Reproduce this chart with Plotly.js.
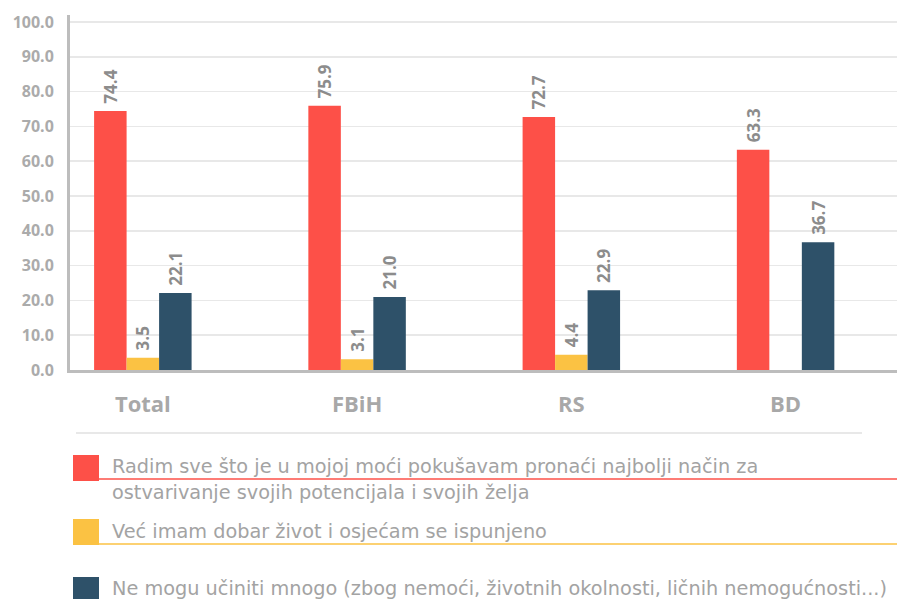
<!DOCTYPE html>
<html>
<head>
<meta charset="utf-8">
<script src="https://cdn.plot.ly/plotly-3.0.1.min.js"></script>
<style>html,body{margin:0;padding:0;background:#fff;}#chart{width:897px;height:599px;}</style>
</head>
<body>
<div id="chart"></div>
<script>
const categories = ["Total", "FBiH", "RS", "BD"];
const seriesNames = [
  "Radim sve što je u mojoj moći pokušavam pronaći najbolji način za<br>ostvarivanje svojih potencijala i svojih želja",
  "Već imam dobar život i osjećam se ispunjeno",
  "Ne mogu učiniti mnogo (zbog nemoći, životnih okolnosti, ličnih nemogućnosti...)"
];
const radimValues = [74.4, 75.9, 72.7, 63.3];
const vecImamValues = [3.5, 3.1, 4.4, null];
const neMoguValues = [22.1, 21.0, 22.9, 36.7];
const yTickValues = [0, 10, 20, 30, 40, 50, 60, 70, 80, 90, 100];
const seriesColors = ["#fd5048", "#fbc243", "#2e5169"];

const W = 897, H = 599;
const M = {l: 70, r: 0, t: 15, b: 229};
const pw = W - M.l - M.r, ph = H - M.t - M.b;
const px = v => (v - M.l) / pw;
const py = v => (H - M.b - v) / ph;

const allValues = [radimValues, vecImamValues, neMoguValues];
const traces = allValues.map((vals, i) => ({
  type: "bar",
  x: categories,
  y: vals,
  name: seriesNames[i],
  marker: {color: seriesColors[i]},
  texttemplate: "\u00a0%{y:.1f}",
  textposition: "outside",
  textangle: -90,
  constraintext: "none",
  cliponaxis: false,
  textfont: {family: "Open Sans", size: 17, color: "#8c8c8c", weight: "bold"},
  hoverinfo: "none"
}));

const shapes = [];
const annotations = [];
shapes.push({type: "line", xref: "paper", yref: "paper", x0: px(76), x1: px(862), y0: py(433), y1: py(433), line: {color: "#e8e8e8", width: 2}});
const legendRows = [
  {top: 455, lines: [466, 492], underline: 479},
  {top: 519, lines: [531], underline: 544},
  {top: 577, lines: [588], underline: null}
];
legendRows.forEach((row, i) => {
  shapes.push({type: "rect", xref: "paper", yref: "paper", x0: px(73), x1: px(99), y0: py(row.top), y1: py(row.top + 26), fillcolor: seriesColors[i], line: {width: 0}});
  if (row.underline !== null) {
    shapes.push({type: "line", xref: "paper", yref: "paper", x0: px(99), x1: px(897), y0: py(row.underline), y1: py(row.underline), line: {color: seriesColors[i], width: 1.5}});
  }
  const parts = seriesNames[i].split("<br>");
  parts.forEach((t, j) => {
    annotations.push({xref: "paper", yref: "paper", x: px(110), y: py(row.lines[j]), xanchor: "left", yanchor: "middle", text: t, showarrow: false, font: {family: "DejaVu Sans", size: 19.3, color: "#a3a3a3"}});
  });
});

const layout = {
  width: W, height: H,
  margin: M,
  paper_bgcolor: "#fff", plot_bgcolor: "#fff",
  showlegend: false,
  barmode: "group",
  bargap: 0.545,
  bargroupgap: 0,
  xaxis: {
    type: "category",
    range: [-0.34, 3.52],
    showline: true, linecolor: "#bdbdbd", linewidth: 3,
    showgrid: false, ticks: "",
    ticklabelstandoff: 13,
    tickfont: {family: "Open Sans", size: 22, color: "#a8a8a8", weight: "bold"},
    fixedrange: true
  },
  yaxis: {
    range: [0, 102],
    tickvals: yTickValues,
    tickformat: ".1f",
    showline: true, linecolor: "#bdbdbd", linewidth: 3,
    showgrid: true, gridcolor: "#e8e8e8", gridwidth: 1.5,
    zeroline: false,
    ticks: "",
    ticklabelstandoff: 10,
    tickfont: {family: "Open Sans", size: 16, color: "#ababab", weight: "bold"},
    fixedrange: true
  },
  shapes: shapes,
  annotations: annotations
};

Plotly.newPlot("chart", traces, layout, {displayModeBar: false, staticPlot: true});
</script>
</body>
</html>
